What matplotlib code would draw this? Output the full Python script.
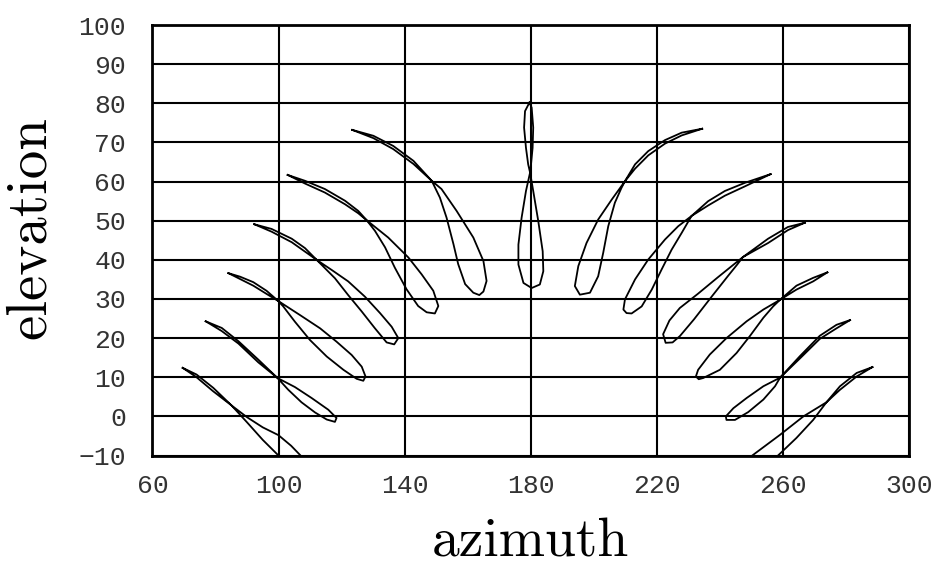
import matplotlib.pyplot as plt

# analemmas, one per hour (6h .. 18h), azimuth / elevation in degrees
az_h06 = [69.6, 74.0, 79.3, 85.1, 90.0, 95.0, 100.0, 104.0, 108.0, 112.5, 113.0, 110.0, 107.0, 104.0, 100.0, 95.0, 90.0, 85.1, 79.3, 74.0, 69.6]
el_h06 = [12.4, 10.7, 7.3, 2.8, -1.5, -6.0, -10.0, -13.2, -15.8, -17.0, -15.0, -12.2, -10.0, -7.5, -4.8, -2.8, -0.2, 2.8, 6.4, 10.0, 12.4]

az_h07 = [76.9, 82.0, 87.3, 93.6, 99.7, 103.1, 107.3, 111.6, 115.3, 117.9, 118.4, 115.8, 110.5, 105.2, 99.7, 93.6, 87.3, 82.0, 76.9]
el_h07 = [24.3, 22.6, 19.2, 14.5, 9.8, 6.8, 3.6, 1.0, -0.8, -1.4, -0.4, 1.7, 4.7, 7.5, 9.8, 13.8, 18.6, 21.8, 24.3]

az_h08 = [84.1, 87.8, 92.0, 96.2, 99.9, 101.5, 105.2, 110.0, 115.3, 120.6, 124.8, 126.9, 127.6, 126.4, 123.2, 118.4, 113.2, 106.8, 99.9, 96.2, 92.0, 87.8, 84.1]
el_h08 = [36.6, 35.7, 34.3, 32.1, 29.5, 28.1, 24.2, 19.5, 15.3, 11.9, 9.6, 9.1, 10.2, 12.7, 15.7, 19.1, 22.5, 25.9, 29.5, 31.3, 33.4, 35.1, 36.6]

az_h09 = [92.3, 97.8, 104.2, 108.4, 112.1, 114.2, 117.9, 122.1, 126.4, 130.6, 134.3, 136.7, 138.0, 135.9, 132.2, 127.4, 122.1, 116.9, 112.1, 108.4, 104.2, 97.8, 92.3]
el_h09 = [49.1, 47.9, 45.4, 43.0, 40.0, 38.3, 35.3, 31.0, 26.8, 22.5, 18.9, 18.4, 20.0, 22.9, 26.4, 30.6, 34.5, 37.4, 40.0, 42.1, 44.5, 47.2, 49.1]

az_h10 = [102.9, 108.4, 114.7, 121.1, 125.3, 128.0, 130.6, 133.8, 136.9, 140.6, 144.3, 147.0, 149.6, 150.7, 149.1, 145.4, 141.2, 134.8, 128.0, 125.3, 121.1, 114.7, 108.4, 102.9]
el_h10 = [61.7, 60.2, 58.1, 55.1, 52.5, 50.1, 47.4, 43.2, 38.0, 32.5, 28.2, 26.6, 26.3, 28.2, 32.1, 36.3, 40.6, 45.7, 50.1, 51.9, 54.2, 57.2, 59.5, 61.7]

az_h11 = [123.4, 130.1, 136.4, 142.8, 148.6, 151.2, 153.3, 155.5, 157.0, 159.2, 161.8, 163.7, 165.0, 166.0, 165.0, 161.8, 156.5, 151.7, 148.6, 142.8, 136.4, 130.1, 123.4]
el_h11 = [73.2, 71.7, 69.1, 65.3, 60.2, 55.9, 50.8, 44.0, 38.9, 33.8, 31.6, 31.0, 31.9, 34.6, 39.7, 45.7, 52.5, 58.1, 60.2, 64.5, 68.3, 71.1, 73.2]

az_h12 = [179.6, 178.2, 177.9, 178.5, 179.2, 179.8, 180.8, 182.4, 183.8, 184.0, 182.9, 180.3, 177.7, 176.1, 176.1, 177.1, 178.5, 179.8, 180.1, 180.6, 180.8, 180.3, 179.6]
el_h12 = [80.2, 78.0, 73.8, 68.6, 64.4, 62.3, 57.6, 49.9, 42.2, 37.1, 33.7, 32.8, 34.1, 38.8, 43.9, 50.7, 57.6, 62.3, 64.4, 68.6, 73.8, 78.9, 80.2]

az_h13 = [234.4, 227.9, 222.6, 217.3, 213.1, 209.9, 205.7, 201.4, 197.7, 195.1, 194.0, 195.6, 198.8, 201.4, 203.0, 204.6, 206.7, 208.8, 209.9, 213.1, 217.3, 222.6, 227.9, 234.4]
el_h13 = [73.5, 72.5, 70.6, 67.8, 64.4, 60.1, 55.4, 50.3, 44.3, 38.4, 33.3, 31.1, 31.6, 35.8, 41.8, 48.6, 54.6, 58.4, 60.1, 63.3, 66.7, 69.7, 71.8, 73.5]

az_h14 = [256.1, 248.0, 241.6, 236.3, 231.0, 226.8, 222.6, 217.3, 213.1, 209.9, 209.4, 210.4, 212.0, 215.2, 218.4, 221.5, 224.7, 227.9, 231.0, 236.3, 241.6, 248.0, 256.1]
el_h14 = [61.9, 59.7, 57.6, 55.0, 51.2, 48.6, 45.2, 40.1, 35.0, 29.9, 27.3, 26.4, 26.3, 28.1, 32.4, 37.5, 42.6, 46.9, 51.2, 53.9, 56.4, 58.8, 61.9]

az_h15 = [267.0, 261.6, 255.3, 247.3, 239.3, 233.0, 227.3, 224.0, 222.0, 222.8, 225.0, 227.3, 231.8, 237.3, 242.5, 245.7, 247.3, 255.3, 261.6, 267.0]
el_h15 = [49.5, 48.4, 45.4, 40.7, 35.5, 31.3, 27.7, 24.5, 21.0, 18.8, 18.9, 20.5, 24.8, 30.5, 35.8, 39.0, 40.7, 44.3, 47.6, 49.5]

az_h16 = [274.1, 269.6, 264.3, 259.1, 253.8, 248.5, 242.1, 236.8, 233.1, 232.4, 233.3, 234.7, 240.0, 245.3, 249.5, 253.8, 256.9, 259.1, 264.3, 269.6, 274.1]
el_h16 = [36.8, 35.4, 33.4, 29.8, 27.3, 24.3, 20.0, 15.8, 11.9, 10.2, 9.5, 9.8, 11.9, 16.2, 20.5, 25.2, 28.1, 29.8, 32.4, 34.5, 36.8]

az_h17 = [281.3, 277.0, 271.7, 265.4, 259.1, 253.8, 248.5, 244.3, 241.9, 242.1, 244.8, 249.0, 253.8, 257.5, 259.1, 265.4, 271.7, 277.0, 281.3]
el_h17 = [24.6, 23.4, 20.6, 15.4, 9.9, 7.7, 4.7, 2.1, 0.0, -0.9, -0.9, 1.1, 4.3, 7.7, 9.9, 14.8, 19.8, 22.5, 24.6]

az_h18 = [288.4, 283.4, 278.1, 273.8, 266.5, 259.1, 251.1, 247.0, 245.5, 247.0, 251.0, 255.0, 259.1, 264.3, 269.6, 273.8, 278.1, 283.4, 288.4]
el_h18 = [12.6, 11.1, 7.7, 3.6, 0.0, -4.7, -9.5, -12.0, -14.5, -16.3, -15.5, -12.6, -9.5, -5.5, -0.9, 3.6, 6.8, 10.2, 12.6]

curves = [(az_h06, el_h06), (az_h07, el_h07), (az_h08, el_h08), (az_h09, el_h09),
          (az_h10, el_h10), (az_h11, el_h11), (az_h12, el_h12), (az_h13, el_h13),
          (az_h14, el_h14), (az_h15, el_h15), (az_h16, el_h16), (az_h17, el_h17),
          (az_h18, el_h18)]

x_ticks = [60, 100, 140, 180, 220, 260, 300]
y_ticks = [-10, 0, 10, 20, 30, 40, 50, 60, 70, 80, 90, 100]

fig = plt.figure(figsize=(9.46, 5.74), dpi=100)
ax = fig.add_axes([0.1611, 0.2064, 0.7998, 0.75])

for az, el in curves:
    ax.plot(az, el, color='black', linewidth=1.3)

ax.set_xlim(60, 300)
ax.set_ylim(-10, 100)
ax.set_xticks(x_ticks)
ax.set_yticks(y_ticks)
ax.set_xticklabels([str(v) for v in x_ticks])
ax.set_yticklabels([str(v).replace('-', '\u2212') for v in y_ticks])
ax.grid(True, color='black', linewidth=1.5)
ax.set_axisbelow(True)
for s in ax.spines.values():
    s.set_linewidth(2)
ax.tick_params(length=0, labelsize=19, labelcolor='#333')
ax.tick_params(axis='x', pad=13)
ax.tick_params(axis='y', pad=19)
for lab in ax.get_xticklabels() + ax.get_yticklabels():
    lab.set_fontfamily(['Liberation Mono', 'DejaVu Sans Mono'])

ax.set_xlabel('azimuth', fontfamily='cmr10', fontsize=40)
ax.set_ylabel('elevation', fontfamily='cmr10', fontsize=41)
ax.xaxis.set_label_coords(0.5, -0.145)
ax.yaxis.set_label_coords(-0.128, 0.53)

fig.savefig('out.png', dpi=100)
